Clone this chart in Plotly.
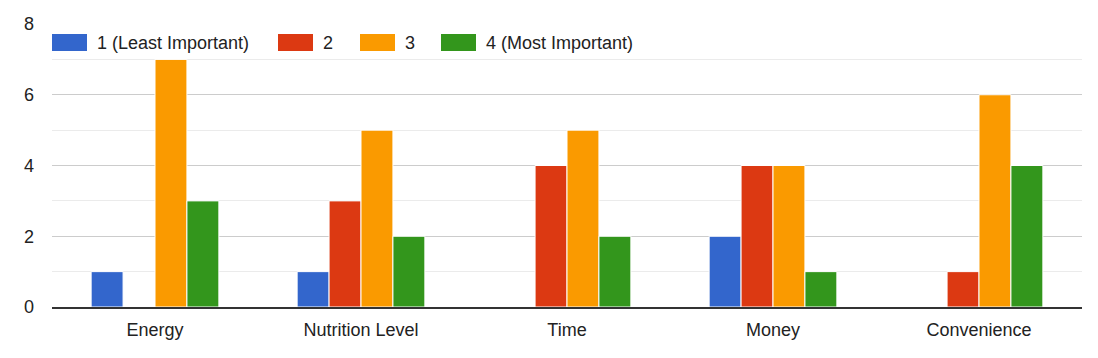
import plotly.graph_objects as go

categories = ["Energy", "Nutrition Level", "Time", "Money", "Convenience"]
series_names = ["1 (Least Important)", "2", "3", "4 (Most Important)"]
least_1 = [1, 1, 0, 2, 0]
rank_2 = [0, 3, 4, 4, 1]
rank_3 = [7, 5, 5, 4, 6]
most_4 = [3, 2, 2, 1, 4]
y_ticks = [0, 2, 4, 6, 8]

series_values = [least_1, rank_2, rank_3, most_4]
colors = ["#3366cc", "#dc3912", "#fa9a00", "#33961c"]

W, H = 1098, 358
ML, MR, MT, MB = 52, 16, 24, 51
PW, PH = W - ML - MR, H - MT - MB

fig = go.Figure()
for name, vals, col in zip(series_names, series_values, colors):
    fig.add_trace(go.Bar(
        x=categories, y=vals, name=name,
        marker=dict(color=col, line=dict(color="white", width=1)),
        showlegend=False,
    ))

# legend drawn as swatches + text (pixel positions -> paper)
legend_starts = [52, 278, 360, 441]
sw_w, sw_h, sw_top = 35, 17, 34
def px(x):
    return (x - ML) / PW
def py(y):
    return (H - MB - y) / PH

shapes = []
annotations = []
for start, name, col in zip(legend_starts, series_names, colors):
    shapes.append(dict(type="rect", xref="paper", yref="paper",
                       x0=px(start), x1=px(start + sw_w),
                       y0=py(sw_top + sw_h), y1=py(sw_top),
                       fillcolor=col, line=dict(width=0), layer="above"))
    annotations.append(dict(xref="paper", yref="paper",
                            x=px(start + sw_w + 8), y=py(sw_top + sw_h / 2),
                            xanchor="left", yanchor="middle", showarrow=False,
                            text=name, font=dict(size=18, color="#222222")))

fig.update_layout(
    width=W, height=H,
    margin=dict(l=ML, r=MR, t=MT, b=MB),
    paper_bgcolor="white", plot_bgcolor="white",
    font=dict(family="Arial, Liberation Sans, sans-serif", size=18, color="#222222"),
    barmode="group", bargap=0.38, bargroupgap=0.0,
    shapes=shapes, annotations=annotations,
    xaxis=dict(
        range=[-0.5, 4.5], showgrid=False, zeroline=False,
        showline=True, linecolor="#333333", linewidth=1.5,
        ticks="", tickfont=dict(size=18, color="#222222"),
        ticklabelstandoff=6,
    ),
    yaxis=dict(
        range=[0, 8], tickvals=y_ticks, showgrid=True, gridcolor="#cccccc", gridwidth=1,
        minor=dict(dtick=1, showgrid=True, gridcolor="#ebebeb", gridwidth=1),
        zeroline=False, showline=False, ticks="",
        tickfont=dict(size=18, color="#222222"), ticklabelstandoff=17,
    ),
)

fig.write_html("out.html", config={"displayModeBar": False},
               post_script="document.body.style.margin='0';")
